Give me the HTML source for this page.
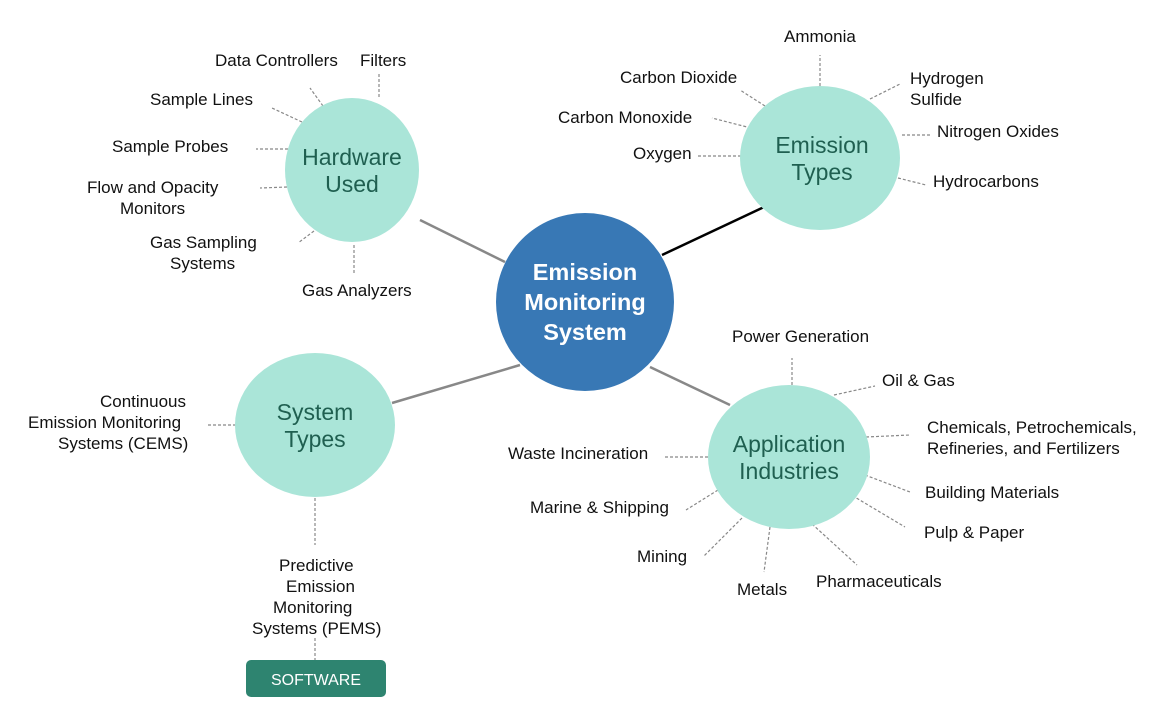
<!DOCTYPE html>
<html><head><style>
body{margin:0;background:#fff}
svg{display:block}
text{font-family:"Liberation Sans",Arial,sans-serif}
.l{font-size:17px;fill:#111}
.e{font-size:23px;fill:#1f5f50}
.d{stroke:#888;stroke-width:1.2;stroke-dasharray:3 2;fill:none}
</style></head><body>
<svg width="1170" height="728" viewBox="0 0 1170 728">
<g stroke="#888" stroke-width="2.5">
<line x1="505" y1="262" x2="420" y2="220"/>
<line x1="520" y1="365" x2="392" y2="403"/>
<line x1="650" y1="367" x2="730" y2="405"/>
</g>
<line x1="662" y1="255" x2="764" y2="207" stroke="#000" stroke-width="2.5"/>
<g class="d">
<line x1="323" y1="106" x2="310" y2="88"/><line x1="379" y1="97" x2="379" y2="74"/>
<line x1="302" y1="122" x2="272" y2="108"/><line x1="288" y1="149" x2="256" y2="149"/>
<line x1="287" y1="187" x2="260" y2="188"/><line x1="318" y1="228" x2="298" y2="243"/>
<line x1="354" y1="245" x2="354" y2="275"/>
<line x1="820" y1="86" x2="820" y2="55"/><line x1="765" y1="106" x2="740" y2="90"/>
<line x1="870" y1="99" x2="900" y2="84"/><line x1="751" y1="128" x2="712" y2="118"/>
<line x1="741" y1="156" x2="698" y2="156"/><line x1="902" y1="135" x2="930" y2="135"/>
<line x1="898" y1="178" x2="926" y2="185"/>
<line x1="236" y1="425" x2="206" y2="425"/><line x1="315" y1="498" x2="315" y2="545"/>
<line x1="315" y1="638" x2="315" y2="660"/>
<line x1="792" y1="385" x2="792" y2="358"/><line x1="834" y1="395" x2="875" y2="386"/>
<line x1="866" y1="437" x2="910" y2="435"/><line x1="708" y1="457" x2="665" y2="457"/>
<line x1="865" y1="475" x2="910" y2="492"/><line x1="718" y1="490" x2="686" y2="510"/>
<line x1="848" y1="493" x2="905" y2="527"/><line x1="742" y1="518" x2="704" y2="556"/>
<line x1="812" y1="524" x2="857" y2="565"/><line x1="770" y1="527" x2="764" y2="572"/>
</g>
<g fill="#aae5d8">
<ellipse cx="352" cy="170" rx="67" ry="72"/>
<ellipse cx="820" cy="158" rx="80" ry="72"/>
<ellipse cx="315" cy="425" rx="80" ry="72"/>
<ellipse cx="789" cy="457" rx="81" ry="72"/>
</g>
<circle cx="585" cy="302" r="89" fill="#3878b5"/>
<g font-size="23.5" font-weight="bold" fill="#fff" text-anchor="middle">
<text x="585" y="280">Emission</text><text x="585" y="310">Monitoring</text><text x="585" y="340">System</text>
</g>
<g text-anchor="middle">
<text class="e" x="352" y="165">Hardware</text><text class="e" x="352" y="192">Used</text>
<text class="e" x="822" y="153">Emission</text><text class="e" x="822" y="180">Types</text>
<text class="e" x="315" y="420">System</text><text class="e" x="315" y="447">Types</text>
<text class="e" x="789" y="452">Application</text><text class="e" x="789" y="479">Industries</text>
</g>
<g>
<text class="l" x="215" y="66">Data Controllers</text>
<text class="l" x="360" y="66">Filters</text>
<text class="l" x="150" y="105">Sample Lines</text>
<text class="l" x="112" y="152">Sample Probes</text>
<text class="l" x="87" y="193">Flow and Opacity</text>
<text class="l" x="120" y="214">Monitors</text>
<text class="l" x="150" y="248">Gas Sampling</text>
<text class="l" x="170" y="269">Systems</text>
<text class="l" x="302" y="296">Gas Analyzers</text>
<text class="l" x="784" y="42">Ammonia</text>
<text class="l" x="620" y="83">Carbon Dioxide</text>
<text class="l" x="910" y="84">Hydrogen</text>
<text class="l" x="910" y="105">Sulfide</text>
<text class="l" x="558" y="123">Carbon Monoxide</text>
<text class="l" x="937" y="137">Nitrogen Oxides</text>
<text class="l" x="633" y="159">Oxygen</text>
<text class="l" x="933" y="187">Hydrocarbons</text>
<text class="l" x="100" y="407">Continuous</text>
<text class="l" x="28" y="428">Emission Monitoring</text>
<text class="l" x="58" y="449">Systems (CEMS)</text>
<text class="l" x="279" y="571">Predictive</text>
<text class="l" x="286" y="592">Emission</text>
<text class="l" x="273" y="613">Monitoring</text>
<text class="l" x="252" y="634">Systems (PEMS)</text>
<text class="l" x="732" y="342">Power Generation</text>
<text class="l" x="882" y="386">Oil &amp; Gas</text>
<text class="l" x="927" y="433">Chemicals, Petrochemicals,</text>
<text class="l" x="927" y="454">Refineries, and Fertilizers</text>
<text class="l" x="508" y="459">Waste Incineration</text>
<text class="l" x="925" y="498">Building Materials</text>
<text class="l" x="530" y="513">Marine &amp; Shipping</text>
<text class="l" x="924" y="538">Pulp &amp; Paper</text>
<text class="l" x="637" y="562">Mining</text>
<text class="l" x="816" y="587">Pharmaceuticals</text>
<text class="l" x="737" y="595">Metals</text>
</g>
<rect x="246" y="660" width="140" height="37" rx="5" fill="#2e8470"/>
<text x="316" y="685" font-size="16" fill="#fff" text-anchor="middle">SOFTWARE</text>
</svg>
</body></html>
